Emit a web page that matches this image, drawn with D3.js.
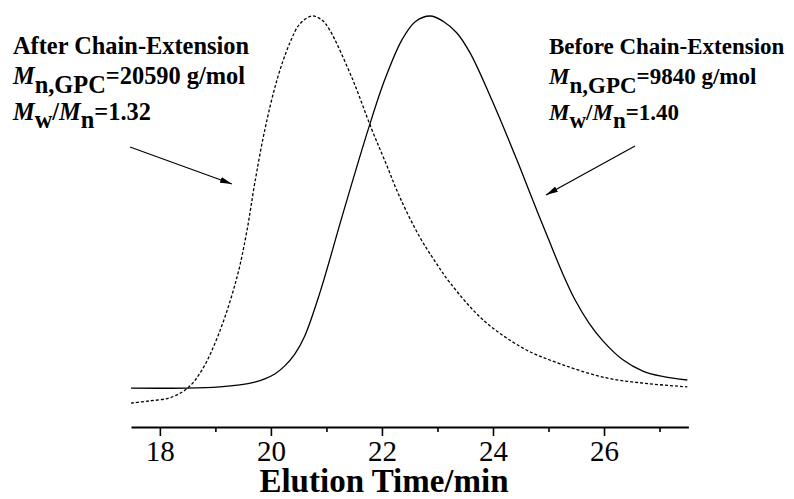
<!DOCTYPE html>
<html>
<head>
<meta charset="utf-8">
<script src="https://cdn.jsdelivr.net/npm/d3@7"></script>
<style>
  body { margin: 0; background: #fff; }
  svg { display: block; }
  text { font-family: "Liberation Serif", "Times New Roman", serif; fill: #000; }
</style>
</head>
<body>
<svg id="svg" width="794" height="499"></svg>
<script>
// elution time (min) and detector signal (arbitrary units, peak = 100)
let beforeTime = [17.48, 18.49, 19.08, 19.44, 19.71, 19.89, 20.07, 20.25, 20.43, 20.61, 20.88, 21.3, 21.75, 22.05, 22.36, 22.6, 22.87,
                  23.1, 23.35, 23.59, 23.98, 24.43, 24.7, 24.99, 25.26, 25.48, 25.73, 25.98, 26.34, 26.7, 27.01, 27.5];
let beforeSignal = [7.9, 7.9, 8.2, 8.7, 9.4, 10.2, 11.4, 13.4, 16.3, 20.8, 31.4, 51.2, 71.8, 84.2, 94.1, 98.6, 100,
                    98.7, 95.8, 90.8, 79.2, 64.4, 55.0, 45.1, 36.1, 29.7, 24.0, 19.6, 14.9, 12.1, 10.9, 9.9];

let afterTime = [17.48, 17.8, 18.18, 18.5, 18.76, 19.08, 19.39, 19.57, 19.71, 19.89, 20.11, 20.34, 20.52, 20.74, 20.92, 21.06,
                 21.46, 21.82, 22.07, 22.32, 22.68, 22.95, 23.23, 23.82, 24.54, 25.21, 26.05, 26.8, 27.5];
let afterSignal = [4.2, 4.7, 5.5, 7.9, 12.4, 22.0, 35.4, 47.0, 58.7, 71.8, 84.2, 93.3, 98.0, 100, 99.0, 96.5,
                   84.7, 71.8, 63.6, 55.2, 45.3, 39.4, 33.9, 24.8, 17.8, 13.9, 10.4, 9.0, 8.2];

let majorTicks = [18, 20, 22, 24, 26];
let minorTicks = [19, 21, 23, 25, 27];

let svg = d3.select("#svg");

let x = d3.scaleLinear().domain([17.48, 27.52]).range([131, 688.4]);
let y = d3.scaleLinear().domain([0, 100]).range([420, 16]);

let line = d3.line()
    .x(d => x(d[0]))
    .y(d => y(d[1]))
    .curve(d3.curveCatmullRom.alpha(0.5));

svg.append("path")
    .datum(d3.zip(beforeTime, beforeSignal))
    .attr("d", line)
    .attr("fill", "none")
    .attr("stroke", "#000")
    .attr("stroke-width", 1.3);

svg.append("path")
    .datum(d3.zip(afterTime, afterSignal))
    .attr("d", line)
    .attr("fill", "none")
    .attr("stroke", "#000")
    .attr("stroke-width", 1.3)
    .attr("stroke-dasharray", "3,2");

// x axis
let axisY = 427;
let axis = svg.append("g")
    .attr("transform", `translate(0,${axisY})`)
    .call(d3.axisBottom(x).tickValues(majorTicks).tickSize(9).tickSizeOuter(0).tickPadding(4).tickFormat(d3.format("d")));
axis.select(".domain").attr("stroke-width", 2.2);
axis.selectAll(".tick line").attr("stroke-width", 1.6);
axis.selectAll(".tick text")
    .style("font-family", "Liberation Serif")
    .style("font-size", "29px");

let minor = svg.append("g")
    .attr("transform", `translate(0,${axisY})`)
    .call(d3.axisBottom(x).tickValues(minorTicks).tickSize(5).tickFormat(""));
minor.select(".domain").remove();
minor.selectAll(".tick line").attr("stroke-width", 1.6);

svg.append("text")
    .attr("x", 384)
    .attr("y", 492)
    .attr("text-anchor", "middle")
    .style("font-size", "33px")
    .style("font-weight", "bold")
    .text("Elution Time/min");

// annotations
function label(x0, y0, size, title, mn, ratio) {
    let g = svg.append("g").style("font-weight", "bold").style("font-size", size + "px");
    g.append("text").attr("x", x0).attr("y", y0).text(title);

    let t2 = g.append("text").attr("x", x0).attr("y", y0 + 30);
    t2.append("tspan").style("font-style", "italic").text("M");
    t2.append("tspan").attr("dy", 9).text("n,GPC");
    t2.append("tspan").attr("dy", -9).text("=" + mn + " g/mol");

    let t3 = g.append("text").attr("x", x0).attr("y", y0 + 66);
    t3.append("tspan").style("font-style", "italic").text("M");
    t3.append("tspan").attr("dy", 8).text("w");
    t3.append("tspan").attr("dy", -8).text("/");
    t3.append("tspan").style("font-style", "italic").text("M");
    t3.append("tspan").attr("dy", 8).text("n");
    t3.append("tspan").attr("dy", -8).text("=" + ratio);
}

label(13, 54, 24.4, "After Chain-Extension", "20590", "1.32");
label(549, 54, 23, "Before Chain-Extension", "9840", "1.40");

svg.append("defs").append("marker")
    .attr("id", "head")
    .attr("viewBox", "0 0 12 6")
    .attr("refX", 12)
    .attr("refY", 3)
    .attr("markerWidth", 12)
    .attr("markerHeight", 6)
    .attr("markerUnits", "userSpaceOnUse")
    .attr("orient", "auto")
    .append("path")
    .attr("d", "M0,0 L12,3 L0,6 Z")
    .attr("fill", "#000");

let arrows = [[130, 147, 232, 184], [635, 146, 546, 195]];
svg.selectAll(".arrow")
    .data(arrows)
    .enter()
    .append("line")
    .attr("x1", d => d[0])
    .attr("y1", d => d[1])
    .attr("x2", d => d[2])
    .attr("y2", d => d[3])
    .attr("stroke", "#000")
    .attr("stroke-width", 1.2)
    .attr("marker-end", "url(#head)");
</script>
</body>
</html>
